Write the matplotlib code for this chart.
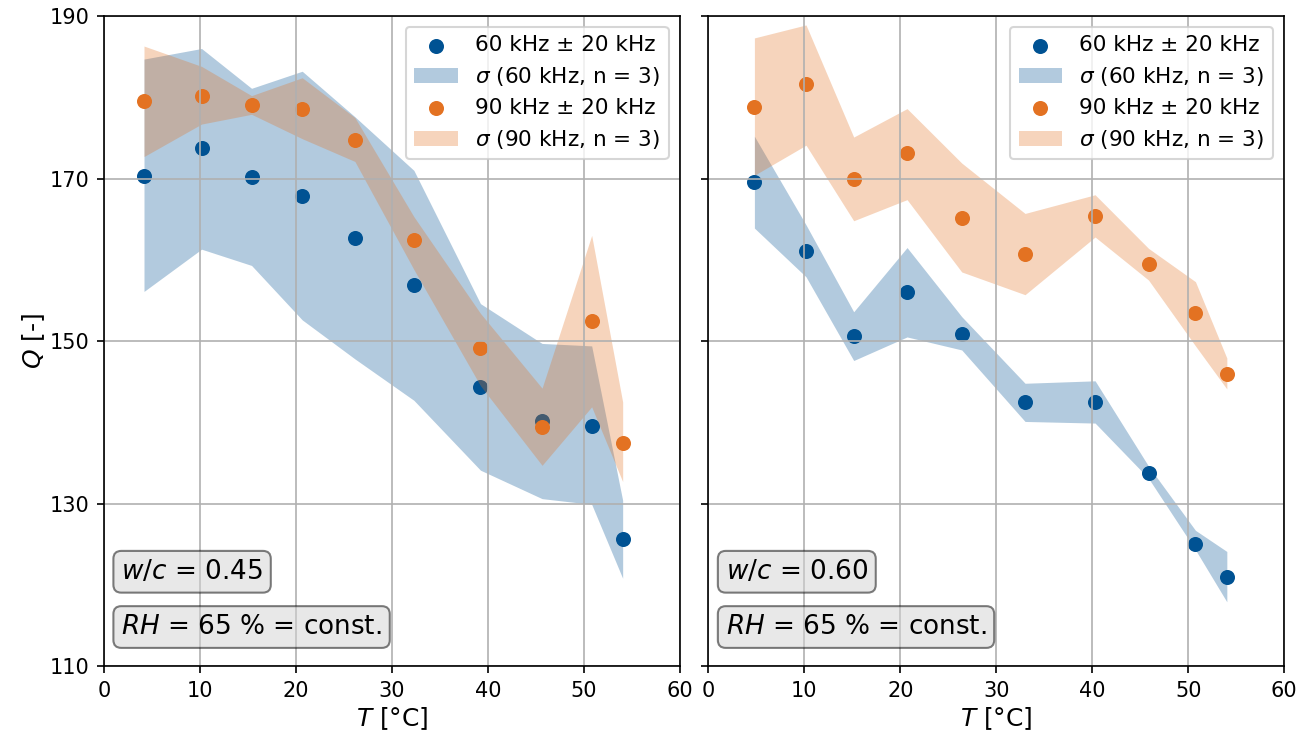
import matplotlib
matplotlib.use("Agg")
import matplotlib.pyplot as plt

# ---- data: w/c = 0.45 (left) ----
T_045 = [4.17, 10.17, 15.38, 20.66, 26.15, 32.3, 39.24, 45.66, 50.83, 54.06]
Q60_045 = [170.35, 173.7, 170.2, 167.9, 162.7, 156.9, 144.4, 140.2, 139.6, 125.6]
Q60_045_hi = [184.7, 186.0, 181.1, 183.2, 177.6, 171.0, 154.6, 149.7, 149.4, 130.4]
Q60_045_lo = [156.1, 161.3, 159.3, 152.6, 147.8, 142.7, 134.1, 130.6, 129.9, 120.8]
Q90_045 = [179.5, 180.2, 179.0, 178.6, 174.7, 162.4, 149.2, 139.4, 152.5, 137.5]
Q90_045_hi = [186.3, 183.8, 180.2, 182.4, 177.5, 165.3, 153.4, 144.2, 163.0, 142.5]
Q90_045_lo = [172.7, 176.7, 177.9, 174.9, 172.1, 158.8, 144.5, 134.7, 141.9, 132.7]

# ---- data: w/c = 0.60 (right) ----
T_060 = [4.79, 10.17, 15.14, 20.7, 26.4, 33.0, 40.3, 45.87, 50.76, 54.03]
Q60_060 = [169.6, 161.1, 150.6, 156.0, 150.9, 142.5, 142.5, 133.8, 125.0, 121.0]
Q60_060_hi = [175.2, 164.3, 153.6, 161.5, 153.0, 144.8, 145.1, 134.6, 126.7, 124.1]
Q60_060_lo = [163.9, 157.9, 147.6, 150.5, 148.9, 140.1, 139.9, 133.1, 124.3, 117.9]
Q90_060 = [178.8, 181.6, 169.9, 173.1, 165.2, 160.7, 165.4, 159.5, 153.4, 146.0]
Q90_060_hi = [187.3, 188.9, 175.1, 178.6, 171.9, 165.7, 168.0, 161.4, 157.3, 147.9]
Q90_060_lo = [170.4, 174.1, 164.8, 167.4, 158.5, 155.7, 162.8, 157.5, 149.4, 144.1]

labels = ["60 kHz ± 20 kHz", r"$\sigma$ (60 kHz, n = 3)",
          "90 kHz ± 20 kHz", r"$\sigma$ (90 kHz, n = 3)"]
wc_texts = [r"$w/c$ = 0.45", r"$w/c$ = 0.60"]
rh_text = r"$RH$ = 65 % = const."
xticks = [0, 10, 20, 30, 40, 50, 60]
yticks = [110, 130, 150, 170, 190]

BLUE = "#005293"
ORANGE = "#E37222"

fig, axes = plt.subplots(1, 2, figsize=(1313 / 150, 737 / 150), dpi=150, sharey=True)
fig.subplots_adjust(left=0.0792, right=0.978, top=0.9783, bottom=0.0963, wspace=0.05)

panels = [
    (T_045, Q60_045, Q60_045_lo, Q60_045_hi, Q90_045, Q90_045_lo, Q90_045_hi, wc_texts[0]),
    (T_060, Q60_060, Q60_060_lo, Q60_060_hi, Q90_060, Q90_060_lo, Q90_060_hi, wc_texts[1]),
]

for ax, (T, q60, lo60, hi60, q90, lo90, hi90, wct) in zip(axes, panels):
    ax.scatter(T, q60, s=52, color=BLUE, label=labels[0], linewidths=0)
    ax.fill_between(T, lo60, hi60, color=BLUE, alpha=0.3, linewidth=0, label=labels[1])
    ax.scatter(T, q90, s=52, color=ORANGE, label=labels[2], linewidths=0)
    ax.fill_between(T, lo90, hi90, color=ORANGE, alpha=0.3, linewidth=0, label=labels[3])
    ax.set_xlim(0, 60)
    ax.set_ylim(110, 190)
    ax.set_xticks(xticks)
    ax.set_yticks(yticks)
    ax.grid(True)
    ax.set_xlabel(r"$T$ [°C]", fontsize=12, labelpad=2)
    ax.legend(loc="upper right", prop={"size": 10.4}, labelspacing=0.45)
    bbox = dict(boxstyle="round", facecolor="lightgray", alpha=0.5)
    ax.text(0.03, 0.145, wct, transform=ax.transAxes, fontsize=12.6,
            va="center", ha="left", bbox=bbox)
    ax.text(0.03, 0.06, rh_text, transform=ax.transAxes, fontsize=12.6,
            va="center", ha="left", bbox=bbox)

axes[0].set_ylabel(r"$Q$ [-]", fontsize=12, labelpad=1)

fig.savefig("out.png", dpi=150)
